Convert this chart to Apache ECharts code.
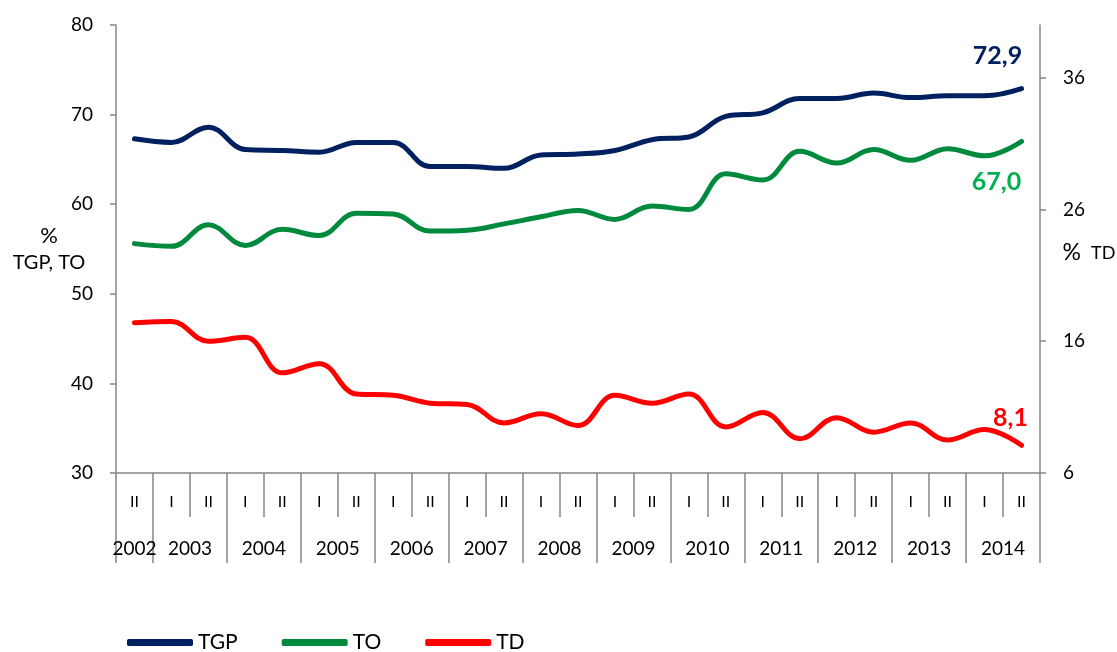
<!DOCTYPE html>
<html>
<head>
<meta charset="utf-8">
<script src="https://cdn.jsdelivr.net/npm/echarts@6/dist/echarts.min.js"></script>
<style>
html,body{margin:0;padding:0;background:#fff;}
#chart{width:1117px;height:652px;}
</style>
</head>
<body>
<div id="chart"></div>
<script>
// Half-year categories (2002 II ... 2014 II)
const halfLabels = ['II','I','II','I','II','I','II','I','II','I','II','I','II','I','II','I','II','I','II','I','II','I','II','I','II'];
const yearLabels = ['2002','2003','2003','2004','2004','2005','2005','2006','2006','2007','2007','2008','2008','2009','2009','2010','2010','2011','2011','2012','2012','2013','2013','2014','2014'];

// Series values (%)
const tgp = [67.3, 66.9, 68.6, 66.1, 66.0, 65.8, 66.9, 66.9, 64.2, 64.2, 64.0, 65.5, 65.6, 66.0, 67.2, 67.5, 69.8, 70.2, 71.8, 71.8, 72.4, 71.9, 72.1, 72.1, 72.9];
const to  = [55.6, 55.3, 57.7, 55.4, 57.2, 56.5, 59.0, 58.9, 57.0, 57.1, 57.8, 58.6, 59.3, 58.3, 59.8, 59.4, 63.4, 62.7, 65.9, 64.6, 66.1, 64.9, 66.2, 65.4, 67.0];
const td  = [17.4, 17.5, 16.0, 16.3, 13.6, 14.3, 12.0, 11.9, 11.3, 11.2, 9.8, 10.5, 9.6, 11.9, 11.3, 12.0, 9.5, 10.6, 8.6, 10.2, 9.1, 9.8, 8.5, 9.3, 8.1];

// Axis ticks
const leftMin = 30, leftMax = 80, leftStep = 10;
const rightMin = 6, rightMax = 40, rightStep = 10;

const FONT = 'Lato, "Open Sans", sans-serif';
const AX = '#868686';

function withEndLabel(arr, color, position, offset) {
  return arr.map((v, i) => {
    if (i !== arr.length - 1) return v;
    return {
      value: v,
      label: {
        show: true, position: position, offset: offset,
        formatter: p => Number(p.value).toFixed(1).replace('.', ','),
        color: color, fontSize: 25, fontWeight: 'bold', fontFamily: FONT
      }
    };
  });
}

// year label: shown at the first index of each year; shifted half a band if the year has two halves
function yearFormatter(value, index) {
  if (index > 0 && yearLabels[index - 1] === value) return '';
  const two = yearLabels[index + 1] === value;
  return two ? '{s|' + value + '}' : '{n|' + value + '}';
}
function yearTick(index) {
  return index === 0 || yearLabels[index - 1] !== yearLabels[index];
}

function lineSeries(name, data, yIdx, color, labelColor, pos, offset) {
  return {
    name: name, type: 'line', xAxisIndex: 0, yAxisIndex: yIdx, smooth: 0.4,
    symbol: 'circle', symbolSize: 2, showSymbol: true, showAllSymbol: true,
    color: color, itemStyle: { color: color },
    lineStyle: { width: 5, color: color, cap: 'round' },
    label: { show: false },
    data: withEndLabel(data, labelColor, pos, offset)
  };
}

const chart = echarts.init(document.getElementById('chart'));
chart.setOption({
  animation: false,
  textStyle: { fontFamily: FONT },
  grid: { left: 116, right: 77, top: 25, bottom: 179, containLabel: false, outerBoundsMode: 'none' },
  legend: {
    left: 122, top: 627,
    itemWidth: 66, itemHeight: 7, itemGap: 44,
    icon: 'roundRect',
    textStyle: { fontSize: 21, color: '#000', fontFamily: FONT },
    data: ['TGP', 'TO', 'TD']
  },
  xAxis: [
    {
      type: 'category', data: halfLabels, position: 'bottom', boundaryGap: true,
      axisLine: { show: true, lineStyle: { color: AX, width: 1.5 } },
      axisTick: { show: true, interval: 0, length: 44, lineStyle: { color: AX, width: 1.5 } },
      axisLabel: { interval: 0, fontSize: 16, color: '#000', margin: 21, fontFamily: FONT }
    },
    {
      type: 'category', data: yearLabels, position: 'bottom', offset: 44, boundaryGap: true,
      axisLine: { show: false },
      axisTick: { show: true, interval: yearTick, length: 46, lineStyle: { color: AX, width: 1.5 } },
      axisLabel: {
        interval: 0, color: '#000', margin: 22, fontSize: 19, fontFamily: FONT,
        formatter: yearFormatter,
        rich: {
          s: { fontSize: 19, color: '#000', fontFamily: FONT, padding: [0, 0, 0, 37] },
          n: { fontSize: 19, color: '#000', fontFamily: FONT }
        }
      }
    }
  ],
  yAxis: [
    {
      type: 'value', min: leftMin, max: leftMax, interval: leftStep, position: 'left',
      axisLine: { show: true, lineStyle: { color: AX, width: 1.5 } },
      axisTick: { show: true, length: 6, lineStyle: { color: AX, width: 1.5 } },
      splitLine: { show: false },
      axisLabel: { fontSize: 19, color: '#000', margin: 23, fontFamily: FONT },
      name: '{a|%}\n{b|TGP, TO}', nameLocation: 'middle', nameRotate: 0, nameGap: 67,
      nameMoveOverlap: false,
      nameTextStyle: {
        align: 'center', verticalAlign: 'middle',
        rich: {
          a: { fontSize: 22, color: '#000', fontFamily: FONT, lineHeight: 28, align: 'center' },
          b: { fontSize: 20, color: '#000', fontFamily: FONT, lineHeight: 26, align: 'center' }
        }
      }
    },
    {
      type: 'value', min: rightMin, max: rightMax, interval: rightStep, position: 'right',
      axisLine: { show: true, lineStyle: { color: AX, width: 1.5 } },
      axisTick: { show: true, length: 6, lineStyle: { color: AX, width: 1.5 } },
      splitLine: { show: false },
      axisLabel: { fontSize: 19, color: '#000', margin: 23, fontFamily: FONT, showMaxLabel: false },
      name: '{a|%}{b|TD}', nameLocation: 'middle', nameRotate: 0, nameGap: 49,
      nameMoveOverlap: false,
      nameTextStyle: {
        align: 'center', verticalAlign: 'middle', padding: [8, 0, 0, 0],
        rich: {
          a: { fontSize: 23, color: '#000', fontFamily: FONT, lineHeight: 26 },
          b: { fontSize: 18, color: '#000', fontFamily: FONT, lineHeight: 26, padding: [0, 0, 0, 10] }
        }
      }
    }
  ],
  series: [
    lineSeries('TGP', tgp, 0, '#002060', '#002060', 'top', [-24, -14]),
    lineSeries('TO', to, 0, '#008A3E', '#00B050', 'bottom', [-25, 22]),
    lineSeries('TD', td, 1, '#FF0000', '#FF0000', 'top', [-11, -9])
  ]
});
</script>
</body>
</html>
